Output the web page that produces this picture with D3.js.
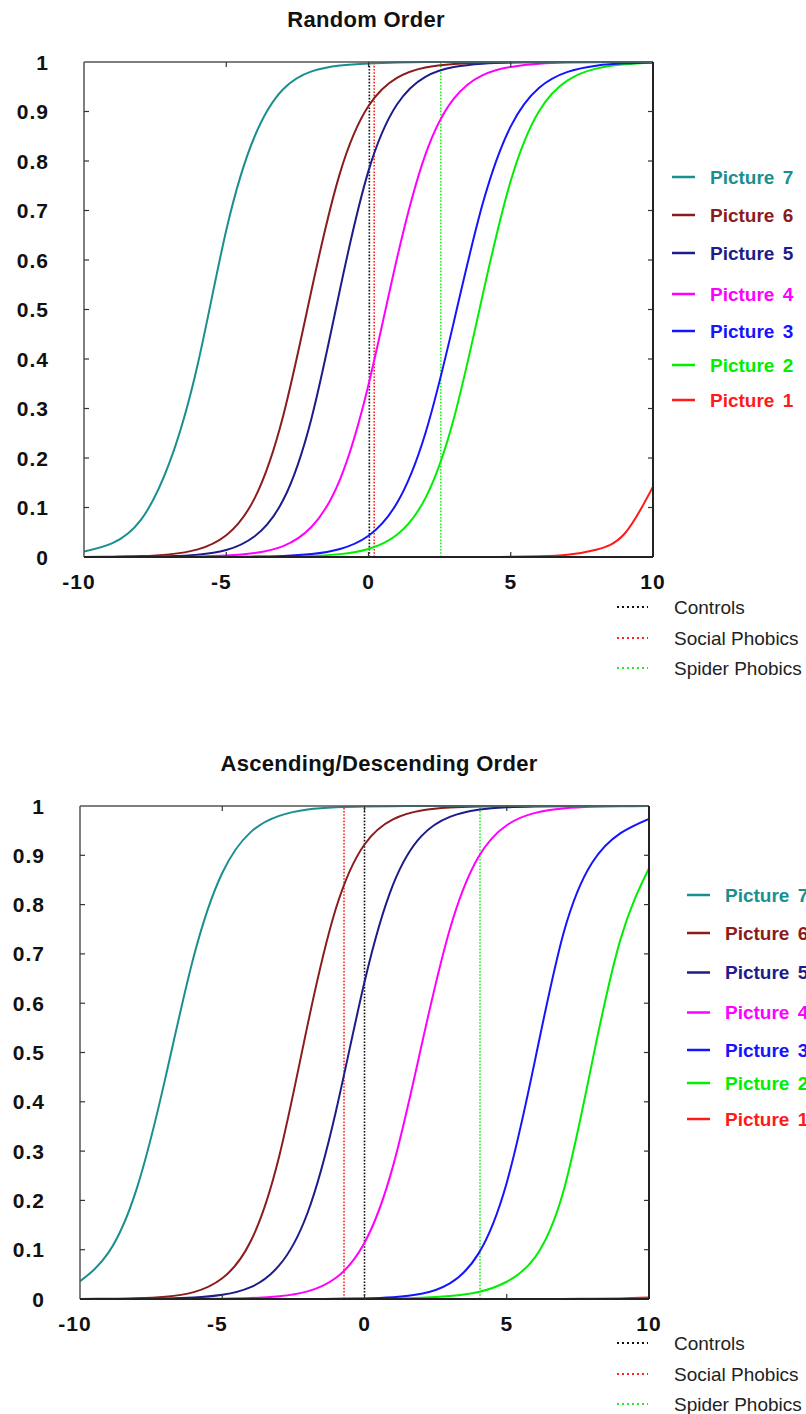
<!DOCTYPE html>
<html>
<head>
<meta charset="utf-8">
<script src="https://cdn.jsdelivr.net/npm/d3@7"></script>
<style>
  html, body { margin: 0; padding: 0; background: #fff; }
  svg { display: block; }
  text { font-family: "Liberation Sans", Arial, Helvetica, sans-serif; }
</style>
</head>
<body>
<svg id="chart" width="806" height="1414"></svg>
<script>
// Sample grid on the x axis
const xValues = [-10, -9, -8, -7, -6, -5, -4, -3, -2, -1, 0, 1, 2, 3, 4, 5, 6, 7, 8, 9, 10];
const xTicks = [-10, -5, 0, 5, 10];
const yTicks = [0, 0.1, 0.2, 0.3, 0.4, 0.5, 0.6, 0.7, 0.8, 0.9, 1];

const pictureNames = ["Picture 1", "Picture 2", "Picture 3", "Picture 4", "Picture 5", "Picture 6", "Picture 7"];
const groupNames = ["Controls", "Social Phobics", "Spider Phobics"];

// Random order: response probability per picture
const randomP1 = [0, 0, 0, 0, 0, 0, 0, 0, 0, 0, 0, 0, 0, 0, 0.0001, 0.0004, 0.0014, 0.0045, 0.0148, 0.047, 0.142];
const randomP2 = [0, 0, 0, 0, 0, 0.0001, 0.0003, 0.0007, 0.002, 0.0058, 0.0163, 0.045, 0.119, 0.28, 0.526, 0.76, 0.901, 0.963, 0.9866, 0.9953, 0.9984];
const randomP3 = [0, 0, 0, 0, 0.0001, 0.0003, 0.0008, 0.0022, 0.006, 0.0163, 0.043, 0.109, 0.25, 0.475, 0.711, 0.87, 0.948, 0.98, 0.9926, 0.9973, 0.999];
const randomP4 = [0, 0, 0.0001, 0.0003, 0.001, 0.0028, 0.0079, 0.022, 0.061, 0.157, 0.348, 0.603, 0.813, 0.926, 0.973, 0.99, 0.9966, 0.9988, 0.9996, 0.9999, 1];
const randomP5 = [0.0001, 0.0002, 0.0005, 0.0016, 0.0048, 0.0142, 0.042, 0.115, 0.281, 0.541, 0.78, 0.914, 0.97, 0.9897, 0.9965, 0.9988, 0.9996, 1, 1, 1, 1];
const randomP6 = [0.0002, 0.0006, 0.0018, 0.0053, 0.0154, 0.044, 0.119, 0.285, 0.54, 0.776, 0.911, 0.968, 0.989, 0.996, 0.9987, 0.9996, 1, 1, 1, 1, 1];
const randomP7 = [0.011, 0.028, 0.075, 0.19, 0.39, 0.66, 0.85, 0.945, 0.981, 0.993, 0.997, 0.999, 1, 1, 1, 1, 1, 1, 1, 1, 1];
const randomGroupX = [0.03, 0.2, 2.54];

// Ascending/descending order: response probability per picture
const ascendP1 = [0, 0, 0, 0, 0, 0, 0, 0, 0, 0, 0, 0, 0, 0, 0, 0, 0, 0, 0.0005, 0.0012, 0.003];
const ascendP2 = [0, 0, 0, 0, 0, 0, 0, 0, 0, 0.0002, 0.0004, 0.001, 0.0025, 0.006, 0.014, 0.035, 0.085, 0.22, 0.48, 0.73, 0.874];
const ascendP3 = [0, 0, 0, 0, 0, 0, 0, 0.0001, 0.0001, 0.0004, 0.0012, 0.0035, 0.0105, 0.0317, 0.0915, 0.236, 0.486, 0.743, 0.885, 0.945, 0.974];
const ascendP4 = [0, 0, 0, 0.0001, 0.0002, 0.0007, 0.0019, 0.0055, 0.0155, 0.043, 0.114, 0.269, 0.513, 0.75, 0.896, 0.961, 0.986, 0.995, 0.9983, 0.9994, 0.9998];
const ascendP5 = [0, 0.0001, 0.0003, 0.001, 0.0029, 0.0085, 0.024, 0.068, 0.175, 0.382, 0.643, 0.84, 0.939, 0.978, 0.9924, 0.9974, 0.9991, 0.9997, 1, 1, 1];
const ascendP6 = [0.0002, 0.0005, 0.0015, 0.0046, 0.0139, 0.042, 0.117, 0.289, 0.556, 0.793, 0.922, 0.973, 0.991, 0.997, 0.999, 1, 1, 1, 1, 1, 1];
const ascendP7 = [0.036, 0.094, 0.225, 0.448, 0.695, 0.864, 0.947, 0.98, 0.9929, 0.9975, 0.9991, 0.9997, 1, 1, 1, 1, 1, 1, 1, 1, 1];
const ascendGroupX = [0.0, -0.72, 4.06];

// Styling
const pictureColors = ["#ff1a1a", "#00ee00", "#1414ff", "#ff00ff", "#1c1c8a", "#8b1c1c", "#1a8f8f"];
const groupColors = ["#111111", "#ff2020", "#22ee22"];

const panels = [
  {
    title: "Random Order",
    series: [randomP1, randomP2, randomP3, randomP4, randomP5, randomP6, randomP7],
    groupX: randomGroupX,
    left: 84, right: 653, top: 62, bottom: 557,
    titleX: 366, titleY: 27,
    legLine: [672, 695], legText: 710,
    legY: [400, 365, 331, 294, 253, 215, 177],   // Picture 1 .. Picture 7
    grpLine: [617, 648], grpText: 674,
    grpY: [607, 638, 668]
  },
  {
    title: "Ascending/Descending Order",
    series: [ascendP1, ascendP2, ascendP3, ascendP4, ascendP5, ascendP6, ascendP7],
    groupX: ascendGroupX,
    left: 80, right: 649, top: 806, bottom: 1299,
    titleX: 379, titleY: 771,
    legLine: [687, 710], legText: 725,
    legY: [1119, 1083, 1050, 1012.5, 972.5, 933, 895],
    grpLine: [617, 648], grpText: 674,
    grpY: [1343, 1374, 1404]
  }
];

const svg = d3.select("#chart");
const fmt = d => (d === 0 || d === 1) ? String(d) : d.toFixed(1);

panels.forEach(p => {
  const g = svg.append("g");
  const x = d3.scaleLinear().domain([-10, 10]).range([p.left, p.right]);
  const y = d3.scaleLinear().domain([0, 1]).range([p.bottom, p.top]);

  // Title
  g.append("text")
    .attr("x", p.titleX).attr("y", p.titleY)
    .attr("text-anchor", "middle")
    .style("font-size", "22px").style("font-weight", "bold")
    .style("letter-spacing", "0.3px")
    .attr("fill", "#111")
    .text(p.title);

  // Group thresholds (vertical dotted lines)
  g.selectAll("line.grp").data(p.groupX).join("line")
    .attr("class", "grp")
    .attr("x1", d => x(d)).attr("x2", d => x(d))
    .attr("y1", y(0)).attr("y2", y(1))
    .attr("stroke", (d, i) => groupColors[i])
    .attr("stroke-width", 1.6)
    .attr("stroke-dasharray", "1.6,1.6");

  // Response curves, Picture 1 at the bottom of the stack
  const line = d3.line()
    .x((d, i) => x(xValues[i]))
    .y(d => y(d))
    .curve(d3.curveNatural);

  const clipId = "clip-" + p.top;
  svg.append("clipPath").attr("id", clipId)
    .append("rect")
    .attr("x", p.left).attr("y", p.top - 1.2)
    .attr("width", p.right - p.left).attr("height", p.bottom - p.top + 2.4);

  g.append("g").attr("clip-path", `url(#${clipId})`)
    .selectAll("path.curve").data(p.series).join("path")
    .attr("class", "curve")
    .attr("d", line)
    .attr("fill", "none")
    .attr("stroke", (d, i) => pictureColors[i])
    .attr("stroke-width", 2);

  // Frame
  g.append("line").attr("x1", p.left).attr("x2", p.right).attr("y1", p.top).attr("y2", p.top)
    .attr("stroke", "#555").attr("stroke-width", 1.5);
  g.append("line").attr("x1", p.left).attr("x2", p.left).attr("y1", p.top).attr("y2", p.bottom)
    .attr("stroke", "#555").attr("stroke-width", 1.5);
  g.append("line").attr("x1", p.left).attr("x2", p.right).attr("y1", p.bottom).attr("y2", p.bottom)
    .attr("stroke", "#222").attr("stroke-width", 2);
  g.append("line").attr("x1", p.right).attr("x2", p.right).attr("y1", p.top).attr("y2", p.bottom)
    .attr("stroke", "#222").attr("stroke-width", 2);

  // Inward ticks on all four sides
  const innerY = yTicks.filter(d => d > 0 && d < 1);
  const innerX = xTicks.filter(d => d > -10 && d < 10);
  g.selectAll("line.ytl").data(innerY).join("line").attr("class", "ytl")
    .attr("x1", p.left).attr("x2", p.left + 5).attr("y1", d => y(d)).attr("y2", d => y(d))
    .attr("stroke", "#333").attr("stroke-width", 1.2);
  g.selectAll("line.ytr").data(innerY).join("line").attr("class", "ytr")
    .attr("x1", p.right - 5).attr("x2", p.right).attr("y1", d => y(d)).attr("y2", d => y(d))
    .attr("stroke", "#333").attr("stroke-width", 1.2);
  g.selectAll("line.xtb").data(innerX).join("line").attr("class", "xtb")
    .attr("x1", d => x(d)).attr("x2", d => x(d)).attr("y1", p.bottom).attr("y2", p.bottom - 5)
    .attr("stroke", "#333").attr("stroke-width", 1.2);
  g.selectAll("line.xtt").data(innerX).join("line").attr("class", "xtt")
    .attr("x1", d => x(d)).attr("x2", d => x(d)).attr("y1", p.top).attr("y2", p.top + 5)
    .attr("stroke", "#333").attr("stroke-width", 1.2);

  // Tick labels
  g.selectAll("text.ylab").data(yTicks).join("text").attr("class", "ylab")
    .attr("x", p.left - 35).attr("y", d => y(d)).attr("dy", "0.36em")
    .attr("text-anchor", "end")
    .style("font-size", "21px").style("font-weight", "bold").style("letter-spacing", "1px")
    .attr("fill", "#111")
    .text(fmt);
  g.selectAll("text.xlab").data(xTicks).join("text").attr("class", "xlab")
    .attr("x", d => x(d) + (d < 0 ? -5 : 0)).attr("y", p.bottom + 32)
    .attr("text-anchor", "middle")
    .style("font-size", "21px").style("font-weight", "bold").style("letter-spacing", "1px")
    .attr("fill", "#111")
    .text(d => String(d));

  // Picture legend
  const leg = g.append("g");
  pictureNames.forEach((name, i) => {
    leg.append("line")
      .attr("x1", p.legLine[0]).attr("x2", p.legLine[1])
      .attr("y1", p.legY[i]).attr("y2", p.legY[i])
      .attr("stroke", pictureColors[i]).attr("stroke-width", 2.5);
    leg.append("text")
      .attr("x", p.legText).attr("y", p.legY[i]).attr("dy", "0.36em")
      .style("font-size", "19px").style("font-weight", "bold").style("word-spacing", "3px")
      .attr("fill", pictureColors[i])
      .text(name);
  });

  // Group legend
  groupNames.forEach((name, i) => {
    g.append("line")
      .attr("x1", p.grpLine[0]).attr("x2", p.grpLine[1])
      .attr("y1", p.grpY[i]).attr("y2", p.grpY[i])
      .attr("stroke", groupColors[i]).attr("stroke-width", 2.2)
      .attr("stroke-dasharray", "2,3");
    g.append("text")
      .attr("x", p.grpText).attr("y", p.grpY[i]).attr("dy", "0.36em")
      .style("font-size", "19px")
      .attr("fill", "#222")
      .text(name);
  });
});
</script>
</body>
</html>
